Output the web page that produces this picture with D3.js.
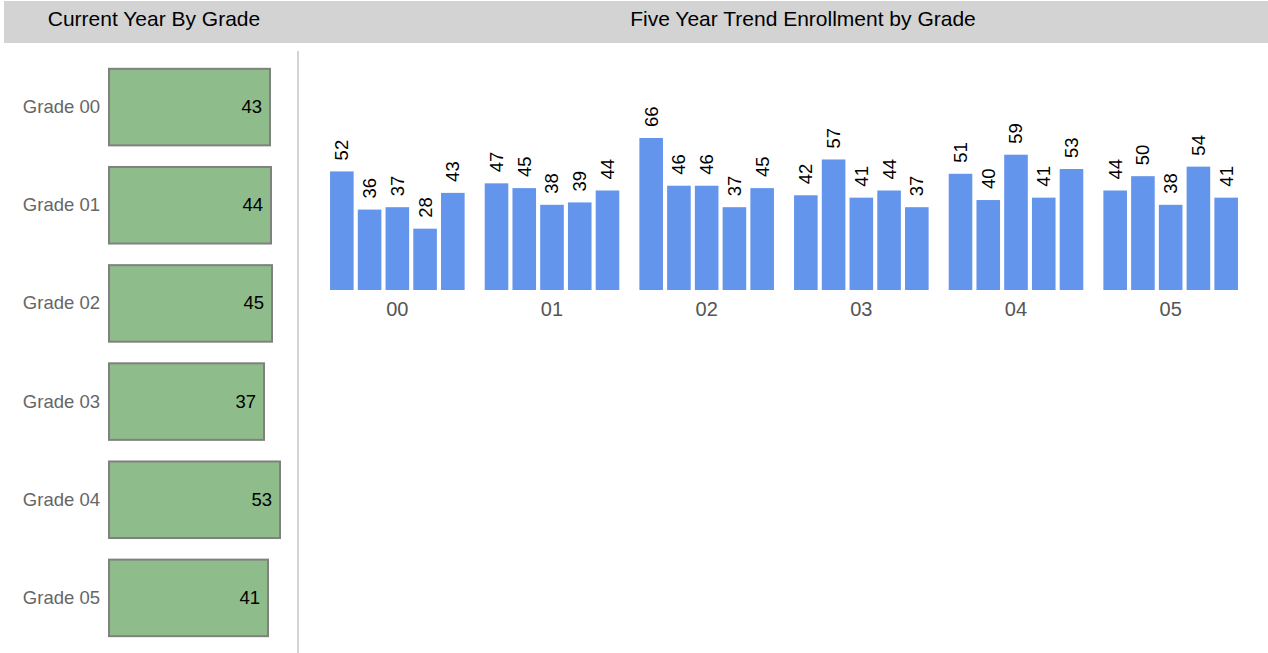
<!DOCTYPE html>
<meta charset="utf-8">
<style>
body {
  margin: 0;
  font-family: "Liberation Sans", Arial, sans-serif;
  background: #fff;
}
.grade-label { fill: #666; font-size: 18.5px; }
.val { fill: #000; font-size: 18.5px; }
.tick-label { fill: #555; font-size: 20px; }
.title { fill: #000; font-size: 21px; }
</style>
<body>
<script src="https://cdn.jsdelivr.net/npm/d3@7"></script>
<script>
'use strict';

// current year enrollment per grade
const grades = ["00", "01", "02", "03", "04", "05"];
const currentYear = [43, 44, 45, 37, 53, 41];

// five year trend, one row per grade
const trend = [
  [52, 36, 37, 28, 43],
  [47, 45, 38, 39, 44],
  [66, 46, 46, 37, 45],
  [42, 57, 41, 44, 37],
  [51, 40, 59, 41, 53],
  [44, 50, 38, 54, 41]
];
const years = [0, 1, 2, 3, 4];

const W = 1268, H = 653;

const svg = d3.select("body").append("svg")
    .attr("width", W)
    .attr("height", H);

// header band
svg.append("rect")
    .attr("x", 4).attr("y", 1)
    .attr("width", W - 4).attr("height", 42)
    .attr("fill", "#d3d3d3");

svg.append("text").attr("class", "title")
    .attr("x", 154).attr("y", 25.5)
    .attr("text-anchor", "middle")
    .text("Current Year By Grade");

svg.append("text").attr("class", "title")
    .attr("x", 803).attr("y", 25.5)
    .attr("text-anchor", "middle")
    .text("Five Year Trend Enrollment by Grade");

// divider
svg.append("line")
    .attr("x1", 298).attr("x2", 298)
    .attr("y1", 51).attr("y2", H)
    .attr("stroke", "#d3d3d3")
    .attr("stroke-width", 2);

// ---- left panel: horizontal bars ----
const yLeft = d3.scaleBand()
    .domain(grades)
    .range([59, 647])
    .paddingInner(0.21)
    .paddingOuter(0.1);

const xLeft = d3.scaleLinear()
    .domain([0, 53])
    .range([120, 173]);

const left = svg.append("g");

const rows = left.selectAll("g.row")
    .data(grades)
  .enter().append("g")
    .attr("class", "row")
    .attr("transform", d => `translate(0,${yLeft(d)})`);

rows.append("rect")
    .attr("x", 109)
    .attr("y", 0)
    .attr("width", (d, i) => xLeft(currentYear[i]) - 2)
    .attr("height", yLeft.bandwidth() - 1)
    .attr("fill", "#8fbc8b")
    .attr("stroke", "#808080")
    .attr("stroke-width", 2);

rows.append("text").attr("class", "grade-label")
    .attr("x", 100)
    .attr("y", yLeft.bandwidth() / 2 - 1)
    .attr("dy", "0.35em")
    .attr("text-anchor", "end")
    .text(d => "Grade " + d);

rows.append("text").attr("class", "val")
    .attr("x", (d, i) => 108 + xLeft(currentYear[i]) - 9)
    .attr("y", yLeft.bandwidth() / 2 - 1)
    .attr("dy", "0.35em")
    .attr("text-anchor", "end")
    .text((d, i) => currentYear[i]);

// ---- right panel: grouped vertical bars ----
const x0 = d3.scaleBand()
    .domain(grades)
    .range([320, 1248])
    .paddingInner(0.13)
    .paddingOuter(0.065);

const x1 = d3.scaleBand()
    .domain(years)
    .range([0, x0.bandwidth()])
    .paddingInner(0.15);

const yRight = d3.scaleLinear()
    .domain([2.3, 66])
    .range([290, 138]);

const groups = svg.append("g").selectAll("g.grp")
    .data(grades)
  .enter().append("g")
    .attr("class", "grp")
    .attr("transform", d => `translate(${x0(d)},0)`);

groups.selectAll("rect")
    .data((d, i) => trend[i])
  .enter().append("rect")
    .attr("x", (v, j) => x1(j))
    .attr("y", v => yRight(v))
    .attr("width", x1.bandwidth())
    .attr("height", v => yRight.range()[0] - yRight(v))
    .attr("fill", "#6495ed");

groups.selectAll("text.val")
    .data((d, i) => trend[i])
  .enter().append("text")
    .attr("class", "val")
    .attr("transform", (v, j) =>
      `translate(${x1(j) + x1.bandwidth() / 2},${yRight(v) - 11}) rotate(-90)`)
    .attr("dy", "0.35em")
    .text(v => v);

groups.append("text").attr("class", "tick-label")
    .attr("x", x0.bandwidth() / 2)
    .attr("y", 316)
    .attr("text-anchor", "middle")
    .text(d => d);
</script>
</body>
